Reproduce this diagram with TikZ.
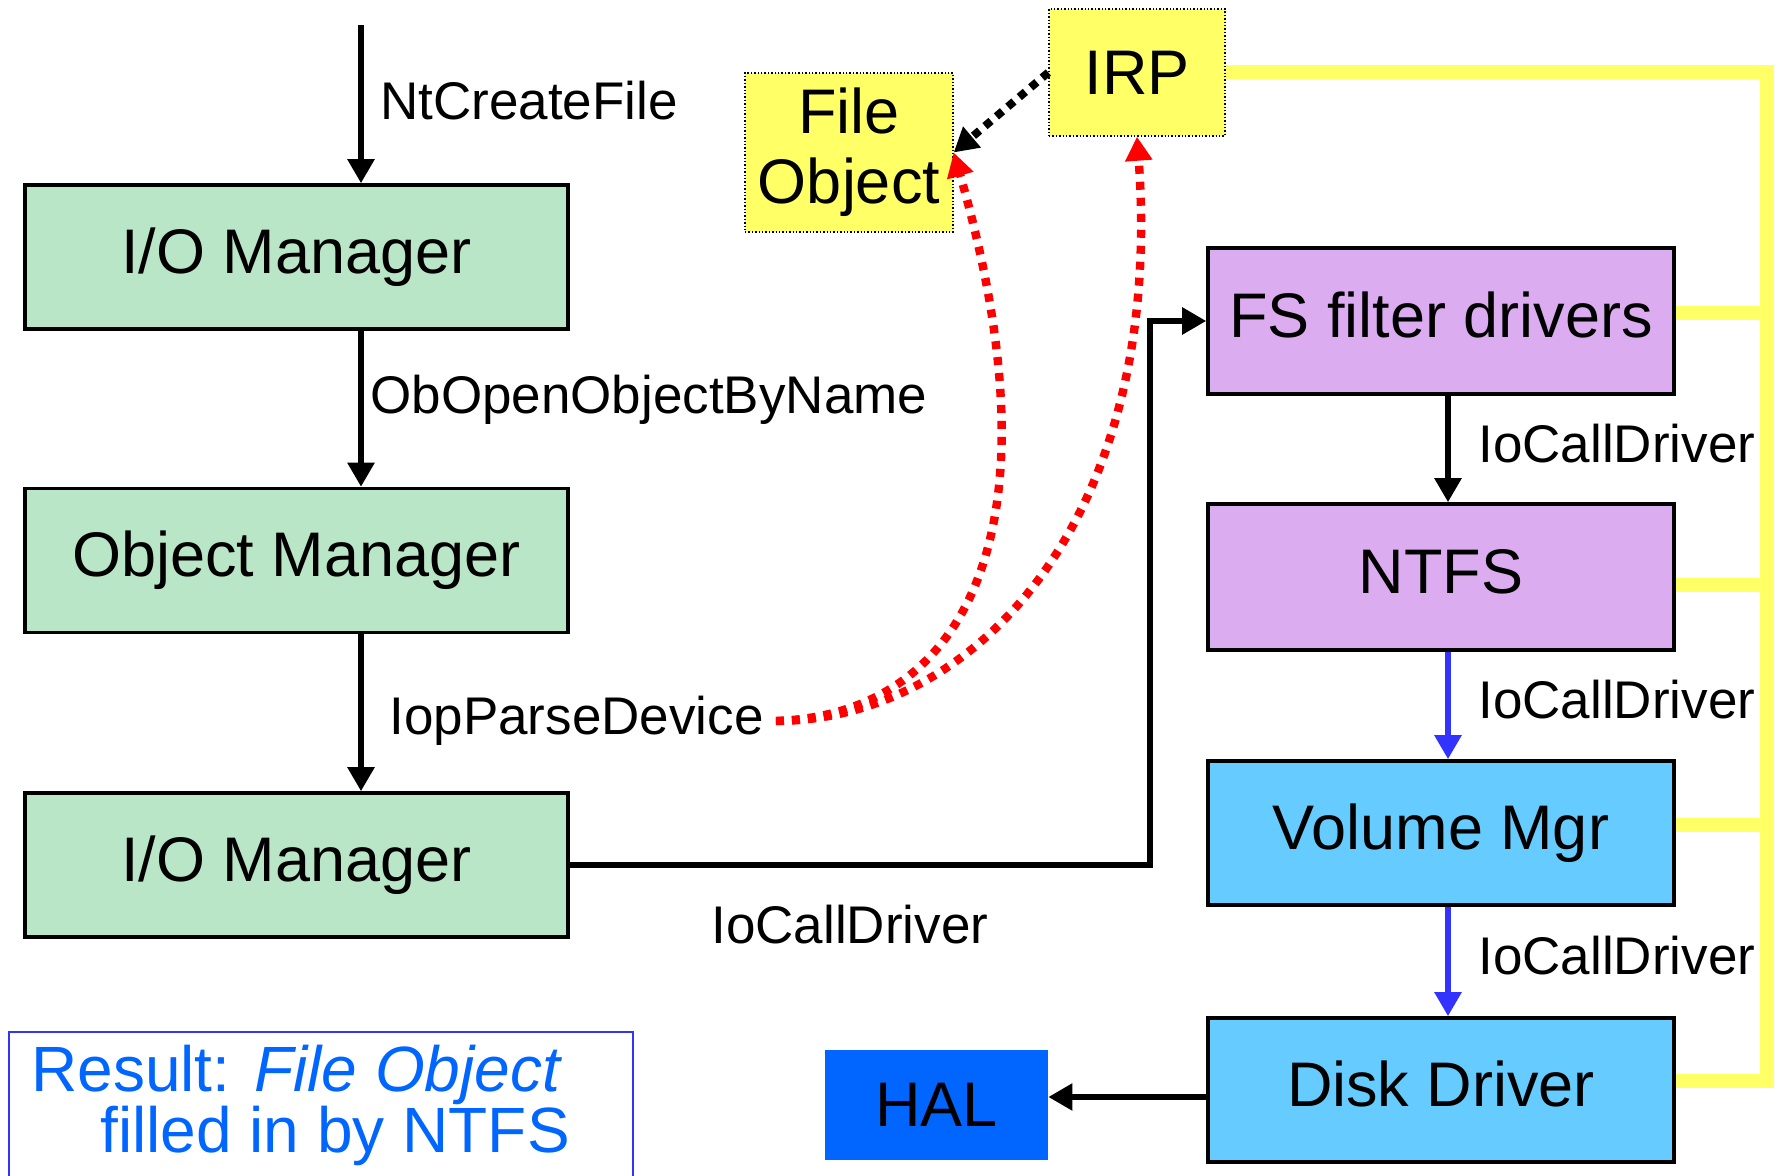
\documentclass[tikz,border=0pt]{standalone}
\usepackage{fontspec}
\setmainfont{Liberation Sans}
\usetikzlibrary{arrows.meta,calc}
\definecolor{boxgreen}{RGB}{186,230,200}
\definecolor{boxpurple}{RGB}{220,172,240}
\definecolor{boxblue}{RGB}{102,204,255}
\definecolor{halblue}{RGB}{0,102,255}
\definecolor{noteyellow}{RGB}{255,255,102}
\definecolor{resultblue}{RGB}{0,102,255}
\definecolor{resultborder}{RGB}{51,51,255}
\definecolor{callblue}{RGB}{51,51,255}
\begin{document}
\begin{tikzpicture}[x=0.5pt,y=-0.5pt,
  mgrbox/.style={draw=black,line width=1.8pt,minimum width=271.5pt,inner sep=0pt,text height=23pt,text depth=6.6pt,font=\fontsize{31.5}{36}\selectfont},
  green/.style={mgrbox,fill=boxgreen,minimum height=72pt},
  purp/.style={mgrbox,fill=boxpurple,minimum width=233pt,minimum height=73pt},
  lblue/.style={mgrbox,fill=boxblue,minimum width=233pt,minimum height=72pt},
  note/.style={draw=black,densely dotted,line width=0.7pt,fill=noteyellow,inner sep=0pt,font=\fontsize{31.5}{35}\selectfont,align=center},
  lbl/.style={anchor=west,inner sep=0pt,font=\fontsize{26.5}{30}\selectfont},
  arr/.style={line width=2.8pt,-{Triangle[width=13pt,length=12pt]}},
  reddot/.style={draw=red,line width=4.2pt,dash pattern=on 4pt off 4pt,-{Triangle[width=13pt,length=12pt]}},
  ybus/.style={draw=noteyellow,line width=7pt}
]
\useasboundingbox (0,0) rectangle (1779,1176);
% boxes
\node[green] (io1) at (296.5,257) {I/O Manager};
\node[green] (om) at (296.5,560.5) {Object Manager};
\node[green] (io2) at (296.5,865) {I/O Manager};
\node[purp] (fs) at (1441,321) {FS filter drivers};
\node[purp] (ntfs) at (1441,577) {NTFS};
\node[lblue] (vol) at (1441,833) {Volume Mgr};
\node[lblue] (disk) at (1441,1090) {Disk Driver};
\node[fill=halblue,minimum width=111.5pt,minimum height=55pt,inner sep=0pt,font=\fontsize{31.5}{36}\selectfont] (hal) at (936.5,1105) {HAL};
\node[note,minimum width=104pt,minimum height=79.5pt] (fo) at (849,152.5) {File\\Object};
\node[note,minimum width=88pt,minimum height=63.5pt] (irp) at (1137,72.5) {IRP};
% coordinates
\coordinate (top) at (361,25);
\coordinate (ax) at (361,0);
\coordinate (rx) at (1448,0);
\coordinate (bend) at (1150,0);
\coordinate (bus) at (1767,0);
\coordinate (hy) at (0,1097);
% left column arrows
\draw[arr] (top) -- (io1.north -| ax);
\draw[arr] (io1.south -| ax) -- (om.north -| ax);
\draw[arr] (om.south -| ax) -- (io2.north -| ax);
\node[lbl] (nt) at (380,101) {NtCreateFile};
\node[lbl] (ob) at (370,400) {ObOpenObjectByName};
\node[lbl] (ipd) at (389,721) {IopParseDevice};
% right column arrows
\draw[arr] (fs.south -| rx) -- (ntfs.north -| rx);
\draw[arr,draw=callblue,fill=callblue] (ntfs.south -| rx) -- (vol.north -| rx);
\draw[arr,draw=callblue,fill=callblue] (vol.south -| rx) -- (disk.north -| rx);
\node[lbl] (c1) at (1478,444) {IoCallDriver};
\node[lbl] (c2) at (1478,700) {IoCallDriver};
\node[lbl] (c3) at (1478,956) {IoCallDriver};
% io2 -> fs
\draw[arr] (io2.east) -| (bend |- fs.west) -- (fs.west);
\node[lbl] (c0) at (711,925) {IoCallDriver};
% disk -> hal
\draw[arr] (disk.west |- hy) -- (hal.east |- hy);
% IRP -> File Object
\draw[line width=4pt,dash pattern=on 4pt off 3.5pt,-{Triangle[width=13pt,length=12pt]}] (irp.west) -- (fo.east);
% red curves
\coordinate (rs) at ($(ipd.east)+(12,0)$);
\draw[reddot] (rs) .. controls (960,715) and (1065,540) .. (fo.east);
\draw[reddot] (rs) .. controls (975,720) and (1165,520) .. (irp.south);
% yellow bus
\coordinate (y1) at (0,313);
\coordinate (y2) at (0,585);
\coordinate (y3) at (0,825);
\coordinate (y4) at (0,1081);
\draw[ybus] (irp.east) -- (irp.east -| bus) -- ($(y4 -| bus)+(0,7)$);
\draw[ybus] (fs.east |- y1) -- (bus |- y1);
\draw[ybus] (ntfs.east |- y2) -- (bus |- y2);
\draw[ybus] (vol.east |- y3) -- (bus |- y3);
\draw[ybus] (disk.east |- y4) -- (bus |- y4);
% result box
\draw[resultborder,line width=0.8pt] (9,1200) -- (9,1032) -- (633,1032) -- (633,1200);
\node[anchor=base west,inner sep=0pt,text=resultblue,font=\fontsize{32}{36}\selectfont] (r1) at (31,1091) {Result: \textit{File Object}};
\node[anchor=base west,inner sep=0pt,text=resultblue,font=\fontsize{32}{36}\selectfont] (r2) at (100,1152) {filled in by NTFS};
\end{tikzpicture}
\end{document}
